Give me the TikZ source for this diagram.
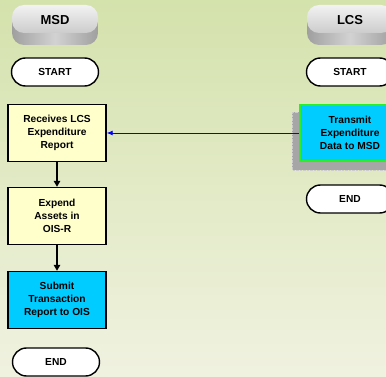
\documentclass[tikz,border=0pt]{standalone}
\usepackage{fontspec}
\setmainfont{Liberation Sans}
\usetikzlibrary{arrows.meta,positioning}
\definecolor{bgtop}{RGB}{212,226,172}
\definecolor{bgbot}{RGB}{240,242,224}
\definecolor{boxyel}{RGB}{255,255,204}
\definecolor{boxcyan}{RGB}{0,204,255}
\definecolor{edgegreen}{RGB}{40,240,40}
\tikzset{
	txt/.style={font=\bfseries\fontsize{10.2}{13}\selectfont,align=center},
	box/.style={txt,draw,line width=1.4pt,minimum width=98pt,minimum height=57pt,inner sep=0pt},
	term/.style={txt,draw,fill=white,line width=1.4pt,rounded corners=14pt,minimum width=87pt,minimum height=28pt,inner sep=0pt},
	head/.style={font=\bfseries\fontsize{13}{14}\selectfont},
	arr/.style={-{Triangle[length=6pt,width=6.5pt]},line width=1.4pt},
	bluearr/.style={-{Latex[length=6pt,width=5pt]},blue,line width=0.9pt}
}
\begin{document}
\begin{tikzpicture}[x=1pt,y=-1pt]
            \useasboundingbox (0,0) rectangle (386,377);
            \clip (0,0) rectangle (386,377);
            \shade[top color=bgtop,bottom color=bgbot] (0,0) rectangle (386,377);
            % lane heads
            \shade[left color=gray!75,right color=gray!75,middle color=gray!35,rounded corners=12pt] (12,12) rectangle (98,45);
            \shade[top color=gray!10,bottom color=gray!40,rounded corners=12pt] (12,5) rectangle (98,33);
            \node[head] (msd) at (55,20) {MSD};
            \shade[left color=gray!75,right color=gray!75,middle color=gray!35,rounded corners=12pt] (307,12) rectangle (393,45);
            \shade[top color=gray!10,bottom color=gray!40,rounded corners=12pt] (307,5) rectangle (393,33);
            \node[head] (lcs) at (350,20) {LCS};
            % MSD lane
            \node[term] (start1) at (55,72) {START};
            \node[box,fill=boxyel] (rcv) at (57,133) {Receives LCS\\Expenditure\\Report};
            \node[box,fill=boxyel] (exp) at (57,216) {Expend\\Assets in\\OIS-R};
            \node[box,fill=boxcyan] (sub) at (57,300) {Submit\\Transaction\\Report to OIS};
            \node[term] (end1) at (56,362) {END};
            % LCS lane
            \node[term] (start2) at (350,72) {START};
            \fill[gray!70,draw=gray!40,densely dotted] (292,112) rectangle (400,170);
            \node[box,fill=boxcyan,draw=edgegreen,line width=2.5pt,minimum width=100pt,minimum height=56pt] (tx) at (350,133) {Transmit\\Expenditure\\Data to MSD};
            \node[term] (end2) at (350,199) {END};
            \draw[arr] (rcv) -- (exp);
            \draw[arr] (exp) -- (sub);
            \draw[bluearr] (tx.west) -- (rcv.east);
        \end{tikzpicture}
\end{document}
